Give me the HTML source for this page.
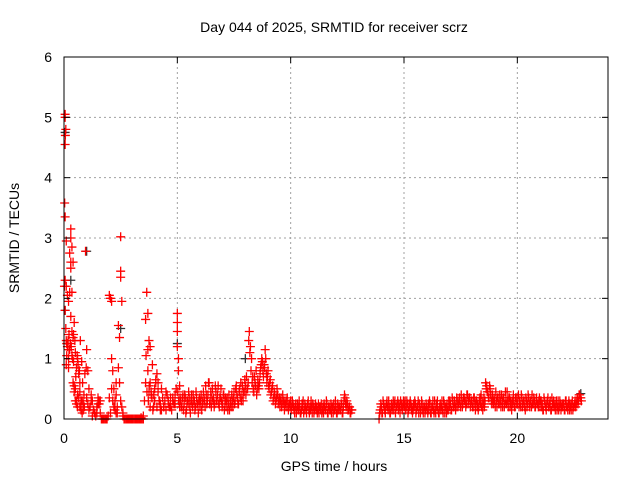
<!DOCTYPE html>
<html><head><meta charset="utf-8"><style>
body{margin:0;background:#fff}
svg{display:block;font-family:"Liberation Sans",sans-serif}
</style></head><body>
<svg width="640" height="480" xmlns="http://www.w3.org/2000/svg">
<g id="grid"></g>
<g id="marks"></g>
<rect x="64" y="57" width="544" height="362" fill="none" stroke="#000" stroke-width="1"/>
<g id="ticks"></g>
<text x="334" y="32" text-anchor="middle" font-size="14">Day 044 of 2025, SRMTID for receiver scrz</text>
<text x="334" y="471" text-anchor="middle" font-size="14">GPS time / hours</text>
<text transform="translate(19,238) rotate(-90)" text-anchor="middle" font-size="14">SRMTID / TECUs</text>
</svg>
<script>
const xTicks=[0,5,10,15,20];
const yTicks=[0,1,2,3,4,5,6];
const earlyT=[0.05,0.05,0.08,0.06,0.05,0.03,0.05,0.1,0.3,0.3,0.35,0.25,0.3,0.4,0.3,0.35,0.25,0.05,0.1,0.15,0.2,0.05,0.3,0.45,0.35,0.4,0.1,0.15,0.25,0.2,0.1,0.5,0.6,0.55,0.65,0.7,0.5,0.6,0.75,0.9,0.95,1.0,1.05,1.1,0.8,1.2,1.3,1.4,1.5,1.6,1.7,1.8,1.9,2.0,2.05,2.1,2.1,2.15,2.2,2.25,2.3,2.35,2.4,2.45,2.5,2.5,2.5,2.55,2.6,2.7,2.8,2.9,3.0,3.1,3.2,3.3,3.4,3.5,3.6,3.65,3.7,3.75,3.8,3.7,3.8,3.9,3.85,3.95,4.0,4.1,4.15,4.2,4.3,4.4,4.5,4.6,4.7,4.8,4.9,5.0,5.0,5.0,5.0,5.05,5.05,5.1,0.15,0.2,0.35,0.45,0.55,0.7,0.85,1.25,1.45,1.55,2.0,2.3,3.75,4.05,4.25,0.12,0.22,0.42];
const earlyV=[5.05,5.0,4.8,4.7,4.55,3.58,3.35,2.95,3.15,3.0,2.85,2.75,2.6,2.6,2.5,2.1,2.1,2.3,2.2,2.05,1.95,1.8,1.7,1.6,1.45,1.35,1.3,1.2,1.15,1.0,0.9,1.1,1.0,0.85,0.75,0.6,0.5,0.4,0.3,0.2,2.78,1.15,0.8,0.5,0.1,0.3,0.15,0.05,0.35,0.3,0.0,0.0,0.0,2.05,2.0,1.95,1.0,0.8,0.5,0.3,0.6,0.2,1.55,1.35,3.02,2.45,2.35,1.95,0.1,0.0,0.0,0.0,0.0,0.0,0.0,0.0,0.02,0.05,1.65,2.1,1.75,1.3,1.2,0.8,0.6,0.9,0.4,0.2,0.5,0.75,0.6,0.3,0.5,0.2,0.45,0.3,0.2,0.35,0.25,1.75,1.6,1.45,1.2,1.0,0.8,0.55,1.25,0.85,1.05,0.55,0.3,0.2,0.15,0.05,0.1,0.25,0.35,0.1,0.45,0.65,0.15,1.05,1.4,0.95];
const early2T=[0.02,0.08,0.12,0.18,0.22,0.28,0.32,0.38,0.42,0.48,0.52,0.58,0.62,0.68,0.72,0.78,0.82,0.88,0.92,0.98,0.4,0.45,0.5,0.55,0.6,0.65,0.7,0.75,0.8,0.85,1.0,1.05,1.1,1.15,1.2,1.25,1.35,1.45,1.5,1.55,1.6,1.65,1.75,1.85,1.95,2.05,2.1,2.15,2.2,2.25,2.3,2.35,2.4,2.45,2.5,2.55,2.6,2.65,2.75,2.85,2.95,3.05,3.15,3.25,3.35,3.45,3.55,3.6,3.62,3.66,3.7,3.72,3.76,3.8,3.84,3.88,3.92,3.96,4.0,4.05,4.1,4.15,4.2,4.25,4.3,4.35,4.4,4.45,4.5,4.55,4.6,4.65,4.7,4.75,4.8,4.85,4.9,4.95,5.02,5.06,5.1,5.12,3.2,3.3,3.4,3.5,3.0,2.9];
const early2V=[2.2,1.5,1.25,1.3,1.15,1.25,1.2,1.0,1.4,1.3,0.7,1.05,0.9,0.8,1.3,0.95,0.6,0.4,0.75,0.85,0.6,0.45,0.3,0.25,0.2,0.35,0.45,0.15,0.3,0.25,0.35,0.25,0.15,0.2,0.4,0.3,0.1,0.2,0.25,0.3,0.1,0.0,0.0,0.0,0.05,0.1,0.5,0.3,0.2,0.15,0.4,0.1,0.85,0.6,0.3,0.2,0.05,0.0,0.0,0.0,0.0,0.0,0.0,0.0,0.0,0.0,0.3,0.6,1.05,0.45,1.15,0.3,0.55,0.2,0.45,0.35,0.15,0.4,0.3,0.6,0.2,0.45,0.3,0.25,0.15,0.35,0.2,0.3,0.15,0.4,0.25,0.2,0.35,0.15,0.3,0.25,0.4,0.5,0.45,0.3,0.2,0.35,0.0,0.0,0.0,0.0,0.0,0.0];
const segAStart=5.15, segBStart=13.9, step=0.05;
const segA=[0.3,0.2,0.4,0.25,0.35,0.15,0.3,0.45,0.2,0.3,0.25,0.4,0.3,0.2,0.35,0.25,0.3,0.2,0.4,0.3,
0.45,0.3,0.55,0.25,0.4,0.6,0.3,0.2,0.5,0.35,0.25,0.45,0.3,0.55,0.2,0.35,0.3,0.25,0.4,0.3,
0.2,0.35,0.25,0.15,0.3,0.4,0.2,0.45,0.3,0.55,0.35,0.25,0.5,0.6,0.4,0.3,0.45,0.55,0.7,0.5,
1.3,1.1,0.8,0.6,0.5,0.7,0.55,0.4,0.65,0.5,0.75,0.9,0.95,0.7,0.85,1.0,0.6,0.8,0.5,0.65,
0.45,0.55,0.35,0.4,0.3,0.5,0.25,0.35,0.3,0.2,0.4,0.25,0.3,0.2,0.35,0.15,0.25,0.3,0.2,0.25,
0.15,0.2,0.1,0.25,0.15,0.2,0.1,0.25,0.3,0.15,0.2,0.1,0.25,0.15,0.2,0.3,0.1,0.2,0.15,0.25,
0.2,0.15,0.1,0.2,0.25,0.15,0.1,0.2,0.15,0.25,0.1,0.2,0.15,0.1,0.2,0.25,0.15,0.2,0.1,0.15,
0.2,0.15,0.25,0.1,0.3,0.35,0.2,0.25,0.15,0.2,0.1,0.15];
const segA2=[0.2,0.35,0.15,0.4,0.1,0.3,0.25,0.35,0.1,0.4,0.2,0.3,0.15,0.45,0.25,0.1,0.35,0.3,0.15,0.25,
0.35,0.2,0.4,0.3,0.6,0.25,0.45,0.35,0.3,0.2,0.55,0.3,0.4,0.25,0.35,0.5,0.2,0.4,0.15,0.35,
0.3,0.15,0.4,0.25,0.2,0.3,0.35,0.25,0.5,0.4,0.25,0.45,0.35,0.3,0.55,0.45,0.65,0.4,0.5,0.6,
1.45,1.2,1.0,0.7,0.45,0.6,0.8,0.5,0.55,0.6,0.85,1.0,0.8,0.9,1.15,0.75,0.7,0.55,0.6,0.4,
0.5,0.3,0.45,0.25,0.35,0.4,0.3,0.2,0.35,0.25,0.3,0.15,0.25,0.3,0.2,0.25,0.2,0.15,0.3,0.2,
0.1,0.25,0.15,0.2,0.3,0.1,0.15,0.2,0.1,0.25,0.15,0.2,0.3,0.1,0.15,0.2,0.25,0.1,0.2,0.15,
0.1,0.25,0.2,0.15,0.1,0.2,0.25,0.15,0.3,0.1,0.2,0.15,0.25,0.2,0.1,0.15,0.3,0.1,0.25,0.2,
0.15,0.25,0.1,0.2,0.4,0.25,0.3,0.15,0.2,0.1,0.15];
const segB=[0.0,0.15,0.2,0.1,0.25,0.15,0.2,0.3,0.15,0.2,0.1,0.25,0.2,0.15,0.3,0.2,0.25,0.15,0.2,0.3,0.25,0.2,
0.25,0.3,0.2,0.25,0.15,0.2,0.25,0.2,0.15,0.2,0.25,0.15,0.2,0.1,0.2,0.15,0.25,0.1,0.2,0.15,
0.2,0.1,0.15,0.25,0.1,0.2,0.15,0.3,0.1,0.2,0.15,0.1,0.25,0.2,0.15,0.3,0.1,0.2,0.25,0.15,
0.2,0.25,0.15,0.3,0.2,0.25,0.2,0.3,0.25,0.35,0.2,0.3,0.25,0.35,0.3,0.25,0.4,0.3,0.35,0.25,
0.3,0.2,0.35,0.15,0.3,0.25,0.2,0.35,0.4,0.3,0.25,0.2,0.6,0.55,0.45,0.35,0.5,0.3,0.4,0.25,
0.3,0.45,0.2,0.35,0.25,0.3,0.4,0.2,0.35,0.25,0.3,0.45,0.2,0.35,0.3,0.15,0.25,0.3,0.2,0.35,
0.25,0.4,0.3,0.2,0.35,0.25,0.3,0.15,0.3,0.25,0.35,0.2,0.3,0.4,0.25,0.3,0.2,0.35,0.25,0.3,
0.2,0.3,0.25,0.15,0.3,0.2,0.25,0.35,0.2,0.3,0.15,0.25,0.3,0.2,0.25,0.15,0.3,0.2,0.25,0.2,
0.2,0.25,0.15,0.3,0.2,0.25,0.15,0.2,0.25,0.15,0.2,0.3,0.25,0.35,0.3,0.4,0.35];
const segB2=[0.1,0.25,0.1,0.3,0.2,0.1,0.25,0.2,0.3,0.1,0.2,0.15,0.3,0.25,0.1,0.2,0.3,0.25,0.1,0.2,0.15,0.3,
0.2,0.15,0.3,0.1,0.25,0.3,0.15,0.1,0.25,0.3,0.1,0.2,0.3,0.25,0.1,0.3,0.15,0.2,0.1,0.25,
0.15,0.25,0.3,0.1,0.2,0.3,0.1,0.15,0.25,0.3,0.1,0.2,0.15,0.3,0.1,0.25,0.2,0.1,0.15,0.3,
0.3,0.15,0.35,0.2,0.3,0.15,0.35,0.2,0.3,0.25,0.4,0.2,0.35,0.3,0.2,0.4,0.25,0.35,0.2,0.3,
0.2,0.35,0.25,0.3,0.2,0.15,0.3,0.25,0.2,0.15,0.35,0.3,0.5,0.45,0.35,0.55,0.4,0.25,0.3,0.35,
0.2,0.3,0.35,0.25,0.4,0.2,0.3,0.35,0.2,0.45,0.25,0.3,0.35,0.2,0.25,0.3,0.4,0.2,0.35,0.25,
0.35,0.2,0.25,0.4,0.2,0.3,0.2,0.35,0.2,0.4,0.25,0.3,0.2,0.25,0.35,0.2,0.3,0.25,0.2,0.35,
0.3,0.2,0.15,0.35,0.25,0.15,0.3,0.2,0.25,0.15,0.35,0.2,0.25,0.15,0.3,0.2,0.15,0.3,0.15,0.25,
0.25,0.15,0.3,0.2,0.15,0.3,0.25,0.15,0.3,0.2,0.25,0.2,0.3,0.25,0.4,0.35,0.3];
const blackT=[0.05,0.05,0.3,1.0,2.5,5.0,8.0,22.8];
const blackV=[4.75,1.8,2.3,2.78,1.5,1.25,1.0,0.42];

const X0=64,X1=608,Y0=419,Y1=57;
const xs=t=>X0+t/24*(X1-X0);
const ys=v=>Y0-v/6*(Y0-Y1);
const NS='http://www.w3.org/2000/svg';
function mk(tag,attrs,parent){const e=document.createElementNS(NS,tag);for(const k in attrs)e.setAttribute(k,attrs[k]);parent.appendChild(e);return e;}
const grid=document.getElementById('grid'),ticks=document.getElementById('ticks'),marks=document.getElementById('marks');
xTicks.forEach(t=>{const x=xs(t);
 if(t>0){const g=mk('line',{x1:x,x2:x,y1:Y1,y2:Y0,stroke:'#a0a0a0','stroke-dasharray':'2,3'},grid);}
 const l=mk('line',{x1:x,x2:x,y1:Y0,y2:Y0-6,stroke:'#000'},ticks);
 const l2=mk('line',{x1:x,x2:x,y1:Y1,y2:Y1+6,stroke:'#000'},ticks);
 const tx=mk('text',{x:x,y:443,'text-anchor':'middle','font-size':14},ticks);tx.textContent=t;});
yTicks.forEach(v=>{const y=ys(v);
 if(v>0&&v<6){const g=mk('line',{x1:X0,x2:X1,y1:y,y2:y,stroke:'#a0a0a0','stroke-dasharray':'2,3'},grid);}
 const l=mk('line',{x1:X0,x2:X0+6,y1:y,y2:y,stroke:'#000'},ticks);
 const l2=mk('line',{x1:X1,x2:X1-6,y1:y,y2:y,stroke:'#000'},ticks);
 const tx=mk('text',{x:52,y:y+5,'text-anchor':'end','font-size':14},ticks);tx.textContent=v;});
function plus(t,v,color){const x=xs(t),y=ys(v);
 const p=mk('path',{d:`M${x-4.5} ${y}h9M${x} ${y-4.5}v9`,stroke:color,'stroke-width':1.3,fill:'none'},marks);
 
 }
blackT.forEach((t,i)=>plus(t,blackV[i],'#333'));
earlyT.forEach((t,i)=>plus(t,earlyV[i],'#f00'));
early2T.forEach((t,i)=>plus(t,early2V[i],'#f00'));
segA.forEach((v,i)=>plus(segAStart+i*step,v,'#f00'));
segA2.forEach((v,i)=>plus(segAStart+step/2+i*step,v,'#f00'));
segB.forEach((v,i)=>plus(segBStart+i*step,v,'#f00'));
segB2.forEach((v,i)=>plus(segBStart+step/2+i*step,v,'#f00'));
</script>
</body></html>
